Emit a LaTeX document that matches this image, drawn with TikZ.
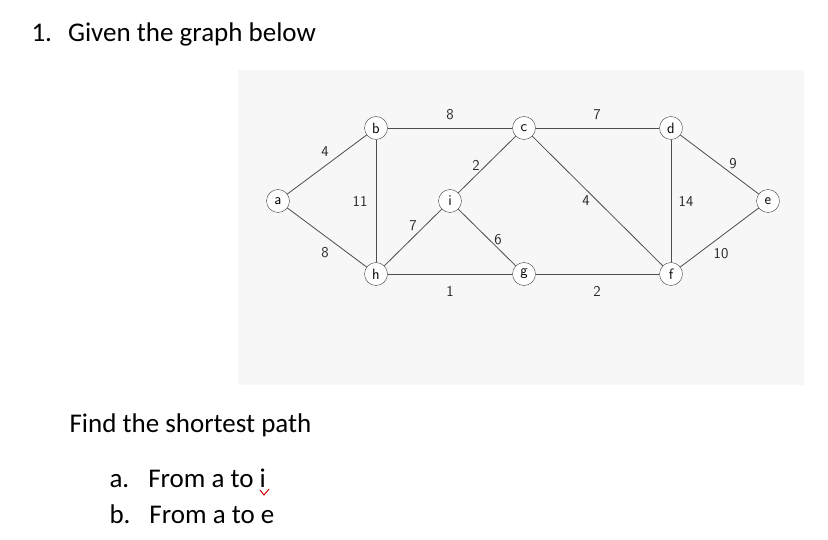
\documentclass[tikz,border=0pt]{standalone}
\usepackage{fontspec}
\setmainfont{Carlito}
\begin{document}
\begin{tikzpicture}[x=1pt,y=-1pt,
  vtx/.style={circle,draw=black!75,fill=white,inner sep=0pt,minimum size=23pt,font=\sffamily\fontsize{15}{15}\selectfont},
  edge/.style={draw=black!70,line width=0.8pt},
  wt/.style={font=\sffamily\fontsize{15}{15}\selectfont,text=black!85},
  txt/.style={font=\fontsize{27}{27}\selectfont,anchor=base west}]
\useasboundingbox (0,0) rectangle (828,540);
\fill[black!3] (238,70) rectangle (804,385);
\node[vtx] (a) at (278,201) {a};
\node[vtx] (b) at (376,128) {b};
\node[vtx] (c) at (524,128) {c};
\node[vtx] (d) at (671,128) {d};
\node[vtx] (e) at (768,201) {e};
\node[vtx] (i) at (450,201) {i};
\node[vtx] (h) at (376,274) {h};
\node[vtx] (g) at (524,274) {g};
\node[vtx] (f) at (671,274) {f};
\foreach \u/\v in {a/b,a/h,b/h,b/c,c/i,i/h,i/g,h/g,c/d,c/f,g/f,d/f,d/e,f/e}
  \draw[edge] (\u) -- (\v);
\node[wt] (w1) at (325,152) {4};
\node[wt] (w2) at (325,253) {8};
\node[wt] (w3) at (360,201) {11};
\node[wt] (w4) at (450,115) {8};
\node[wt] (w5) at (476,165) {2};
\node[wt] (w6) at (413,226) {7};
\node[wt] (w7) at (498,240) {6};
\node[wt] (w8) at (450,291) {1};
\node[wt] (w9) at (597,115) {7};
\node[wt] (w10) at (586,201) {4};
\node[wt] (w11) at (597,291) {2};
\node[wt] (w12) at (686,201) {14};
\node[wt] (w13) at (733,164) {9};
\node[wt] (w14) at (721,254) {10};
\node[txt] (t1) at (28,42) {1.\hspace{16pt}Given the graph below};
\node[txt] (t2) at (66,432) {Find the shortest path};
\node[txt] (t3) at (106,487) {a.\hspace{19pt}From a to i};
\node[txt] (t4) at (106,523) {b.\hspace{19pt}From a to e};
\coordinate (m1) at (260,490);
\coordinate (m2) at (264,495);
\coordinate (m3) at (269,489);
\draw[red!80!black,line width=1pt] (m1) -- (m2) -- (m3);
\end{tikzpicture}
\end{document}
